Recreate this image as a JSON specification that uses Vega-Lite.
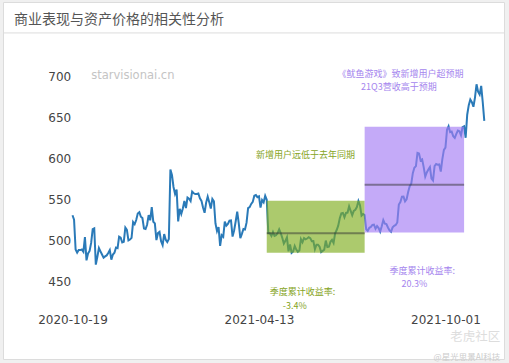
{
  "$schema": "https://vega.github.io/schema/vega-lite/v6.json",
  "width": 501,
  "height": 357,
  "autosize": {"type": "none"},
  "padding": {"left": 3, "top": 2, "right": 5, "bottom": 4},
  "background": "#f0f0f0",
  "config": {"view": {"fill": "white", "stroke": "#dcdcdc", "strokeWidth": 1}},
  "title": {"text": "商业表现与资产价格的相关性分析", "anchor": "start", "frame": "group", "orient": "top", "offset": -32, "dx": 11, "baseline": "middle", "font": "Noto Sans CJK SC", "fontSize": 14, "fontWeight": "normal", "color": "#555555"},
  "datasets": {
    "price": [
      {"d":"2020-10-19","c":530.72},{"d":"2020-10-20","c":525.42},{"d":"2020-10-21","c":489.05},{"d":"2020-10-22","c":485.23},{"d":"2020-10-23","c":488.28},
      {"d":"2020-10-26","c":488.24},{"d":"2020-10-27","c":488.93},{"d":"2020-10-28","c":486.24},{"d":"2020-10-29","c":504.21},{"d":"2020-10-30","c":475.74},
      {"d":"2020-11-02","c":484.12},{"d":"2020-11-03","c":487.22},{"d":"2020-11-04","c":496.95},{"d":"2020-11-05","c":513.76},{"d":"2020-11-06","c":514.73},
      {"d":"2020-11-09","c":470.5},{"d":"2020-11-10","c":480.24},{"d":"2020-11-11","c":490.76},{"d":"2020-11-12","c":486.77},{"d":"2020-11-13","c":482.84},
      {"d":"2020-11-16","c":479.1},{"d":"2020-11-17","c":480.63},{"d":"2020-11-18","c":481.79},{"d":"2020-11-19","c":484.67},{"d":"2020-11-20","c":488.24},
      {"d":"2020-11-23","c":476.62},{"d":"2020-11-24","c":482.88},{"d":"2020-11-25","c":485.0},{"d":"2020-11-27","c":491.36},{"d":"2020-11-30","c":490.7},
      {"d":"2020-12-01","c":504.58},{"d":"2020-12-02","c":503.38},{"d":"2020-12-03","c":497.52},{"d":"2020-12-04","c":498.31},
      {"d":"2020-12-07","c":515.78},{"d":"2020-12-08","c":512.9},{"d":"2020-12-09","c":500.03},{"d":"2020-12-10","c":501.09},{"d":"2020-12-11","c":503.22},
      {"d":"2020-12-14","c":522.42},{"d":"2020-12-15","c":519.78},{"d":"2020-12-16","c":524.83},{"d":"2020-12-17","c":532.9},{"d":"2020-12-18","c":534.45},
      {"d":"2020-12-21","c":528.91},{"d":"2020-12-22","c":527.33},{"d":"2020-12-23","c":514.48},{"d":"2020-12-24","c":513.97},
      {"d":"2020-12-28","c":519.12},{"d":"2020-12-29","c":530.87},{"d":"2020-12-30","c":524.59},{"d":"2020-12-31","c":540.73},
      {"d":"2021-01-04","c":522.86},{"d":"2021-01-05","c":520.8},{"d":"2021-01-06","c":500.49},{"d":"2021-01-07","c":508.89},{"d":"2021-01-08","c":510.4},
      {"d":"2021-01-11","c":499.1},{"d":"2021-01-12","c":494.25},{"d":"2021-01-13","c":507.79},{"d":"2021-01-14","c":500.86},{"d":"2021-01-15","c":497.98},
      {"d":"2021-01-19","c":501.77},{"d":"2021-01-20","c":586.34},{"d":"2021-01-21","c":579.84},{"d":"2021-01-22","c":565.17},
      {"d":"2021-01-25","c":556.78},{"d":"2021-01-26","c":561.93},{"d":"2021-01-27","c":523.28},{"d":"2021-01-28","c":538.6},{"d":"2021-01-29","c":532.39},
      {"d":"2021-02-01","c":539.04},{"d":"2021-02-02","c":548.16},{"d":"2021-02-03","c":539.45},{"d":"2021-02-04","c":552.16},{"d":"2021-02-05","c":550.79},
      {"d":"2021-02-08","c":547.92},{"d":"2021-02-09","c":559.5},{"d":"2021-02-10","c":557.5},{"d":"2021-02-11","c":556.52},{"d":"2021-02-12","c":556.54},
      {"d":"2021-02-16","c":557.28},{"d":"2021-02-17","c":551.34},{"d":"2021-02-18","c":548.22},{"d":"2021-02-19","c":540.22},
      {"d":"2021-02-22","c":533.78},{"d":"2021-02-23","c":546.15},{"d":"2021-02-24","c":553.41},{"d":"2021-02-25","c":546.7},{"d":"2021-02-26","c":538.85},
      {"d":"2021-03-01","c":550.64},{"d":"2021-03-02","c":547.82},{"d":"2021-03-03","c":520.7},{"d":"2021-03-04","c":511.29},{"d":"2021-03-05","c":516.39},
      {"d":"2021-03-08","c":493.33},{"d":"2021-03-09","c":506.44},{"d":"2021-03-10","c":504.54},{"d":"2021-03-11","c":523.06},{"d":"2021-03-12","c":518.02},
      {"d":"2021-03-15","c":520.25},{"d":"2021-03-16","c":524.03},{"d":"2021-03-17","c":524.44},{"d":"2021-03-18","c":504.79},{"d":"2021-03-19","c":512.18},
      {"d":"2021-03-22","c":523.11},{"d":"2021-03-23","c":535.09},{"d":"2021-03-24","c":520.81},{"d":"2021-03-25","c":502.86},{"d":"2021-03-26","c":508.05},
      {"d":"2021-03-29","c":513.95},{"d":"2021-03-30","c":513.39},{"d":"2021-03-31","c":521.66},{"d":"2021-04-01","c":539.42},
      {"d":"2021-04-05","c":540.67},{"d":"2021-04-06","c":544.53},{"d":"2021-04-07","c":546.99},{"d":"2021-04-08","c":554.58},{"d":"2021-04-09","c":555.31},
      {"d":"2021-04-12","c":552.78},{"d":"2021-04-13","c":553.73},{"d":"2021-04-14","c":540.02},{"d":"2021-04-15","c":549.22},{"d":"2021-04-16","c":546.54},
      {"d":"2021-04-19","c":554.44},{"d":"2021-04-20","c":549.57},{"d":"2021-04-21","c":508.9},{"d":"2021-04-22","c":508.78},{"d":"2021-04-23","c":505.55},
      {"d":"2021-04-26","c":510.3},{"d":"2021-04-27","c":505.55},{"d":"2021-04-28","c":506.52},{"d":"2021-04-29","c":509.0},{"d":"2021-04-30","c":513.47},
      {"d":"2021-05-03","c":509.11},{"d":"2021-05-04","c":503.18},{"d":"2021-05-05","c":496.08},{"d":"2021-05-06","c":499.55},{"d":"2021-05-07","c":503.84},
      {"d":"2021-05-10","c":486.69},{"d":"2021-05-11","c":495.08},{"d":"2021-05-12","c":484.98},{"d":"2021-05-13","c":486.66},{"d":"2021-05-14","c":493.37},
      {"d":"2021-05-17","c":488.94},{"d":"2021-05-18","c":486.28},{"d":"2021-05-19","c":487.7},{"d":"2021-05-20","c":501.67},{"d":"2021-05-21","c":497.89},
      {"d":"2021-05-24","c":502.9},{"d":"2021-05-25","c":501.34},{"d":"2021-05-26","c":502.36},{"d":"2021-05-27","c":503.86},{"d":"2021-05-28","c":502.81},
      {"d":"2021-06-01","c":499.08},{"d":"2021-06-02","c":499.24},{"d":"2021-06-03","c":489.43},{"d":"2021-06-04","c":494.74},
      {"d":"2021-06-07","c":494.66},{"d":"2021-06-08","c":492.39},{"d":"2021-06-09","c":485.81},{"d":"2021-06-10","c":487.27},{"d":"2021-06-11","c":488.77},
      {"d":"2021-06-14","c":499.89},{"d":"2021-06-15","c":491.9},{"d":"2021-06-16","c":492.41},{"d":"2021-06-17","c":498.34},{"d":"2021-06-18","c":500.77},
      {"d":"2021-06-21","c":497.0},{"d":"2021-06-22","c":508.82},{"d":"2021-06-23","c":512.74},{"d":"2021-06-24","c":518.06},{"d":"2021-06-25","c":527.07},
      {"d":"2021-06-28","c":533.03},{"d":"2021-06-29","c":533.5},{"d":"2021-06-30","c":528.21},{"d":"2021-07-01","c":533.54},{"d":"2021-07-02","c":533.98},
      {"d":"2021-07-06","c":541.64},{"d":"2021-07-07","c":535.96},{"d":"2021-07-08","c":530.76},{"d":"2021-07-09","c":535.98},
      {"d":"2021-07-12","c":537.31},{"d":"2021-07-13","c":540.68},{"d":"2021-07-14","c":547.95},{"d":"2021-07-15","c":542.95},{"d":"2021-07-16","c":530.31},
      {"d":"2021-07-19","c":532.28},{"d":"2021-07-20","c":531.05},{"d":"2021-07-21","c":513.63},{"d":"2021-07-22","c":511.77},{"d":"2021-07-23","c":515.41},
      {"d":"2021-07-26","c":516.49},{"d":"2021-07-27","c":518.91},{"d":"2021-07-28","c":519.3},{"d":"2021-07-29","c":514.25},{"d":"2021-07-30","c":517.57},
      {"d":"2021-08-02","c":515.15},{"d":"2021-08-03","c":510.82},{"d":"2021-08-04","c":517.35},{"d":"2021-08-05","c":524.89},{"d":"2021-08-06","c":520.55},
      {"d":"2021-08-09","c":519.97},{"d":"2021-08-10","c":515.84},{"d":"2021-08-11","c":512.4},{"d":"2021-08-12","c":510.72},{"d":"2021-08-13","c":515.92},
      {"d":"2021-08-16","c":517.92},{"d":"2021-08-17","c":518.91},{"d":"2021-08-18","c":521.87},{"d":"2021-08-19","c":543.71},{"d":"2021-08-20","c":546.88},
      {"d":"2021-08-23","c":553.33},{"d":"2021-08-24","c":553.41},{"d":"2021-08-25","c":547.58},{"d":"2021-08-26","c":550.12},{"d":"2021-08-27","c":558.92},
      {"d":"2021-08-30","c":566.18},{"d":"2021-08-31","c":569.19},{"d":"2021-09-01","c":582.07},{"d":"2021-09-02","c":588.55},{"d":"2021-09-03","c":590.53},
      {"d":"2021-09-07","c":606.71},{"d":"2021-09-08","c":606.05},{"d":"2021-09-09","c":597.54},{"d":"2021-09-10","c":598.72},
      {"d":"2021-09-13","c":589.29},{"d":"2021-09-14","c":577.76},{"d":"2021-09-15","c":582.87},{"d":"2021-09-16","c":586.5},{"d":"2021-09-17","c":589.35},
      {"d":"2021-09-20","c":575.43},{"d":"2021-09-21","c":573.14},{"d":"2021-09-22","c":590.65},{"d":"2021-09-23","c":593.26},{"d":"2021-09-24","c":592.39},
      {"d":"2021-09-27","c":592.64},{"d":"2021-09-28","c":583.85},{"d":"2021-09-29","c":599.06},{"d":"2021-09-30","c":610.34},{"d":"2021-10-01","c":613.15},
      {"d":"2021-10-04","c":634.81},{"d":"2021-10-05","c":639.1},{"d":"2021-10-06","c":631.85},{"d":"2021-10-07","c":632.66},{"d":"2021-10-08","c":627.04},
      {"d":"2021-10-11","c":624.94},{"d":"2021-10-12","c":629.76},{"d":"2021-10-13","c":633.8},{"d":"2021-10-14","c":633.0},{"d":"2021-10-15","c":628.29},
      {"d":"2021-10-18","c":637.97},{"d":"2021-10-19","c":639.0},{"d":"2021-10-20","c":625.14},{"d":"2021-10-21","c":653.16},{"d":"2021-10-22","c":664.78},
      {"d":"2021-10-25","c":671.66},{"d":"2021-10-26","c":668.52},{"d":"2021-10-27","c":662.92},{"d":"2021-10-28","c":674.05},{"d":"2021-10-29","c":690.31},
      {"d":"2021-11-01","c":681.17},{"d":"2021-11-02","c":677.72},{"d":"2021-11-03","c":688.29},{"d":"2021-11-04","c":668.4},{"d":"2021-11-05","c":645.72}
    ],
    "quarters": [
      {"q":"Q2","s":"2021-04-20","e":"2021-07-20","lo":484.98,"hi":548.5,"mean":508.9},
      {"q":"Q3","s":"2021-07-20","e":"2021-10-19","lo":509.6,"hi":638.5,"mean":567.9}
    ],
    "notes": [
      {"d":"2021-05-25","v":604.0,"t":"新增用户远低于去年同期","q":"Q2"},
      {"d":"2021-05-21","v":437.6,"t":"季度累计收益率:","q":"Q2"},
      {"d":"2021-05-14","v":420.2,"t":"-3.4%","q":"Q2"},
      {"d":"2021-08-20","v":703.2,"t":"《鱿鱼游戏》致新增用户超预期","q":"Q3"},
      {"d":"2021-08-19","v":686.8,"t":"21Q3营收高于预期","q":"Q3"},
      {"d":"2021-09-10","v":463.1,"t":"季度累计收益率:","q":"Q3"},
      {"d":"2021-09-02","v":446.6,"t":"20.3%","q":"Q3"}
    ]
  },
  "layer": [
    {
      "data": {"values": [{}]},
      "mark": {"type": "rule", "color": "#dcdcdc", "strokeWidth": 1},
      "encoding": {"y": {"datum": 752.8, "type": "quantitative"}}
    },
    {
      "data": {"values": [{}]},
      "mark": {"type": "text", "align": "left", "baseline": "middle", "font": "DejaVu Sans", "fontSize": 11.5, "color": "#c4c4c4"},
      "encoding": {
        "x": {"datum": "2020-11-04", "type": "ordinal"},
        "y": {"datum": 700.4, "type": "quantitative"},
        "text": {"value": "starvisionai.cn"}
      }
    },
    {
      "data": {"name": "price"},
      "mark": {"type": "line", "color": "#2a7ab8", "strokeWidth": 2},
      "encoding": {
        "x": {"field": "d", "type": "ordinal", "title": null,
              "scale": {"type": "point", "range": [69.5, 481.3], "padding": 0},
              "axis": {"values": ["2020-10-19", "2021-04-13", "2021-10-01"], "labelAngle": 0, "labelAlign": "center", "domain": false, "ticks": false, "tickSize": 0, "grid": false, "labelPadding": 0, "offset": -45, "labelFont": "DejaVu Sans", "labelFontSize": 12, "labelColor": "#444444", "labelBaseline": "top"}},
        "y": {"field": "c", "type": "quantitative", "title": null,
              "scale": {"domain": [355.6, 790.5], "nice": false, "zero": false},
              "axis": {"values": [450, 500, 550, 600, 650, 700], "domain": false, "ticks": false, "tickSize": 0, "grid": false, "labelPadding": 0, "offset": -67.7, "labelAlign": "right", "labelBaseline": "middle", "labelFont": "DejaVu Sans", "labelFontSize": 12, "labelColor": "#444444"}}
      }
    },
    {
      "data": {"name": "quarters"},
      "mark": {"type": "rect", "opacity": 0.65},
      "encoding": {
        "x": {"field": "s", "type": "ordinal", "title": null},
        "x2": {"field": "e"},
        "y": {"field": "lo", "type": "quantitative", "title": null},
        "y2": {"field": "hi"},
        "color": {"field": "q", "type": "nominal", "legend": null, "scale": {"domain": ["Q2", "Q3"], "range": ["#7fae1e", "#a47cf5"]}}
      }
    },
    {
      "data": {"name": "quarters"},
      "mark": {"type": "rule", "color": "#333333", "opacity": 0.5, "strokeWidth": 2},
      "encoding": {
        "x": {"field": "s", "type": "ordinal", "title": null},
        "x2": {"field": "e"},
        "y": {"field": "mean", "type": "quantitative", "title": null}
      }
    },
    {
      "data": {"name": "notes"},
      "mark": {"type": "text", "align": "center", "baseline": "middle", "font": "Noto Sans CJK SC", "fontSize": 9},
      "encoding": {
        "x": {"field": "d", "type": "ordinal", "title": null},
        "y": {"field": "v", "type": "quantitative", "title": null},
        "text": {"field": "t"},
        "color": {"field": "q", "type": "nominal", "legend": null, "scale": {"domain": ["Q2", "Q3"], "range": ["#86a424", "#a585ee"]}}
      }
    },
    {
      "data": {"values": [{}]},
      "mark": {"type": "text", "align": "right", "baseline": "middle", "dx": 16, "font": "Noto Sans CJK SC", "fontSize": 12.5, "color": "#dddddd"},
      "encoding": {
        "x": {"datum": "2021-11-05", "type": "ordinal"},
        "y": {"datum": 382.5, "type": "quantitative"},
        "text": {"value": "老虎社区"}
      }
    },
    {
      "data": {"values": [{}]},
      "mark": {"type": "text", "align": "right", "baseline": "middle", "dx": 16, "font": "Noto Sans CJK SC", "fontSize": 8.5, "color": "#cccccc"},
      "encoding": {
        "x": {"datum": "2021-11-05", "type": "ordinal"},
        "y": {"datum": 357.5, "type": "quantitative"},
        "text": {"value": "@星光思景AI科技"}
      }
    }
  ],
  "resolve": {"scale": {"color": "independent"}}
}
